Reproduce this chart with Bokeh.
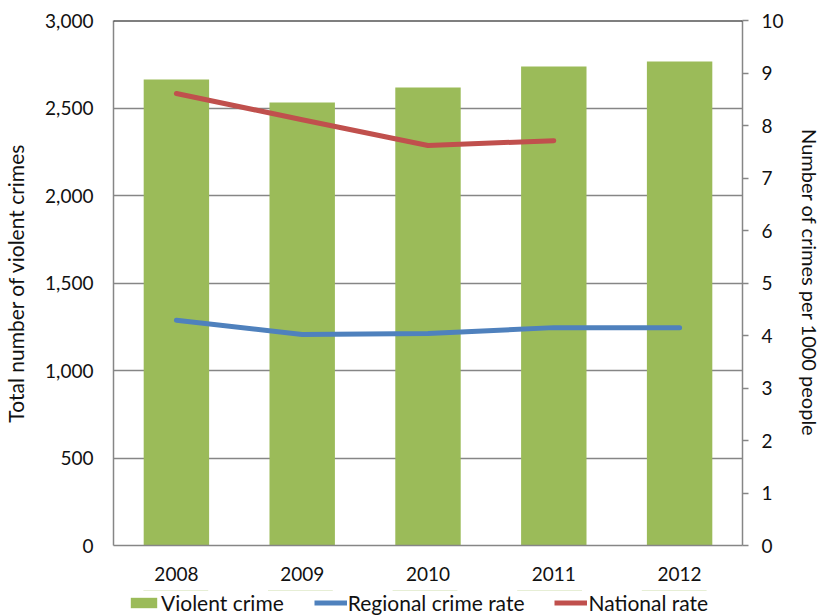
from bokeh.plotting import figure
from bokeh.layouts import column
from bokeh.models import (Range1d, LinearAxis, NumeralTickFormatter, Legend, LegendItem,
                          Span, FixedTicker, ColumnDataSource)
from bokeh.embed import file_html
from bokeh.resources import INLINE

years = ["2008", "2009", "2010", "2011", "2012"]
violent_crime = [2663, 2531, 2617, 2737, 2766]
regional_rate = [4.29, 4.02, 4.04, 4.15, 4.15]
national_rate = [8.61, 8.11, 7.62, 7.71, float("nan")]
left_ticks = [0, 500, 1000, 1500, 2000, 2500, 3000]
right_ticks = list(range(0, 11))
series_names = ["Violent crime", "Regional crime rate", "National rate"]

FONT = "Lato"
GRAY = "#868686"
TXT = "#111111"
GREEN, BLUE, RED = "#9BBB59", "#4F81BD", "#C0504D"

src = ColumnDataSource(dict(year=years, violent=violent_crime,
                            regional=regional_rate, national=national_rate))

p = figure(x_range=years, y_range=Range1d(0, 3000),
           frame_width=629, frame_height=525,
           output_backend="svg", toolbar_location=None,
           min_border_left=113, min_border_right=76, min_border_top=20,
           min_border_bottom=45)
p.extra_y_ranges = {"rate": Range1d(0, 10)}

p.vbar(x="year", top="violent", width=0.52, source=src,
       fill_color=GREEN, line_color=None)
p.line(x="year", y="regional", source=src, y_range_name="rate",
       line_color=BLUE, line_width=5, line_cap="round", line_join="round")
p.line(x="year", y="national", source=src, y_range_name="rate",
       line_color=RED, line_width=5, line_cap="round", line_join="round")

p.outline_line_color = None
p.xgrid.grid_line_color = None
p.ygrid.grid_line_color = GRAY
p.ygrid.grid_line_width = 1.5
p.ygrid.ticker = FixedTicker(ticks=left_ticks)
p.add_layout(Span(location=3000, dimension="width", line_color="black", line_width=2))

# left axis
ya = p.yaxis[0]
ya.ticker = FixedTicker(ticks=left_ticks)
ya.formatter = NumeralTickFormatter(format="0,0")
ya.axis_label = "Total number of violent crimes"
ya.axis_label_text_font = FONT
ya.axis_label_text_font_style = "normal"
ya.axis_label_text_font_size = "21px"
ya.axis_label_text_color = TXT
ya.axis_label_standoff = 14
ya.major_label_text_font = FONT
ya.major_label_text_font_size = "19px"
ya.major_label_text_color = TXT
ya.major_label_standoff = 20
ya.major_tick_out = 0
ya.major_tick_in = 0
ya.minor_tick_out = 0
ya.minor_tick_in = 0
ya.axis_line_color = GRAY
ya.axis_line_width = 1.5

# right axis
ra = LinearAxis(y_range_name="rate", ticker=FixedTicker(ticks=right_ticks))
ra.axis_label = "Number of crimes per 1000 people"
ra.axis_label_text_font = FONT
ra.axis_label_text_font_style = "normal"
ra.axis_label_text_font_size = "20px"
ra.axis_label_text_color = TXT
ra.axis_label_standoff = 11
ra.major_label_text_font = FONT
ra.major_label_text_font_size = "19px"
ra.major_label_text_color = TXT
ra.major_label_standoff = 13
ra.major_tick_out = 6
ra.major_tick_in = 0
ra.major_tick_line_color = GRAY
ra.major_tick_line_width = 1.5
ra.minor_tick_out = 0
ra.minor_tick_in = 0
ra.axis_line_color = GRAY
ra.axis_line_width = 1.5
p.add_layout(ra, "right")

# x axis
xa = p.xaxis[0]
xa.major_label_text_font = FONT
xa.major_label_text_font_size = "19px"
xa.major_label_text_color = TXT
xa.major_label_standoff = 21
xa.major_tick_out = 0
xa.major_tick_in = 0
xa.axis_line_color = GRAY
xa.axis_line_width = 1.5

# legend strip (separate figure below the chart; its frame aligns with the chart frame)
lg = figure(width=818, height=25, x_range=years, y_range=Range1d(-2, -1),
            output_backend="svg", toolbar_location=None,
            x_axis_location=None, y_axis_location=None,
            min_border=0, outline_line_color=None)
lg.grid.visible = False
# same data, drawn outside the strip's visible range: only the legend glyphs show
r_bar = lg.vbar(x="year", top="violent", width=0.52, source=src,
                fill_color=GREEN, line_color=None)
r_reg = lg.line(x="year", y="regional", source=src, line_color=BLUE, line_width=5)
r_nat = lg.line(x="year", y="national", source=src, line_color=RED, line_width=5)

legend = Legend(items=[LegendItem(label=series_names[0], renderers=[r_bar]),
                       LegendItem(label=series_names[1], renderers=[r_reg]),
                       LegendItem(label=series_names[2], renderers=[r_nat])],
                orientation="horizontal", location=(14, 0),
                label_text_font=FONT, label_text_font_size="21px",
                label_text_color=TXT,
                glyph_width=33, glyph_height=13, label_standoff=1, spacing=30,
                padding=0, margin=0, border_line_color=None,
                background_fill_alpha=0, label_height=25)
lg.add_layout(legend, "center")

open("out.html", "w").write(file_html(column(p, lg, spacing=0), INLINE))
